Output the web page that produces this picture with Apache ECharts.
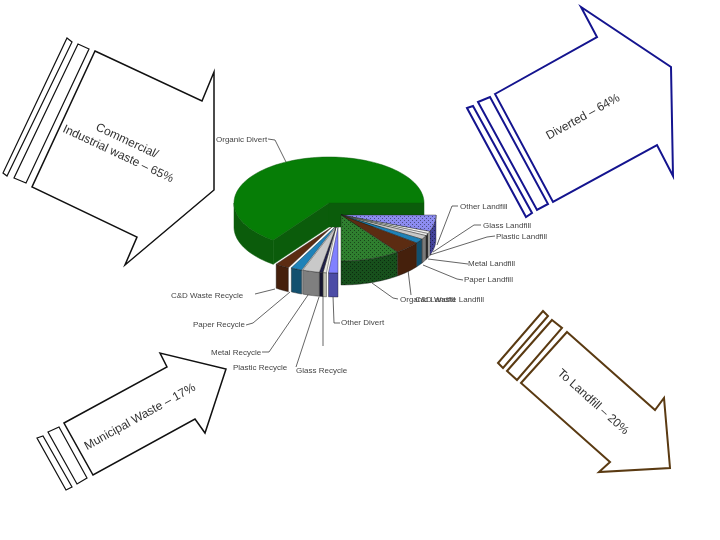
<!DOCTYPE html>
<html>
<head>
<meta charset="utf-8">
<title>Waste streams</title>
<script src="https://cdn.jsdelivr.net/npm/echarts@6/dist/echarts.min.js"></script>
<style>
  html, body { margin: 0; background: #fff; }
  #container { width: 720px; height: 540px; }
</style>
</head>
<body>
<div id="container"></div>
<script>
// slices, clockwise from the cut at the lower left of the big green one
const sliceNames = ['Organic Divert', 'Other Landfill', 'Glass Landfill', 'Plastic Landfill', 'Metal Landfill',
  'Paper Landfill', 'C&D Waste Landfill', 'Organic Landfill', 'Other Divert', 'Glass Recycle', 'Plastic Recycle',
  'Metal Recycle', 'Paper Recycle', 'C&D Waste Recycle'];
const sliceValues = [65.0, 5.8, 0.8, 0.8, 1.4, 1.6, 4.5, 10.1, 1.6, 0.6, 0.6, 2.9, 1.9, 2.4];

const arrowTexts = ['Commercial/', 'Industrial waste – 65%', 'Diverted – 64%', 'Municipal Waste – 17%', 'To Landfill – 20%'];

// styles, same order as sliceNames
const topColors = ['#067d06', '#8c8cf0', '#f4f4f4', '#ececec', '#c8c8c8', '#1f82b8', '#5c2c12', '#2f7f2f',
  '#8080ff', '#e8e8e0', '#20204a', '#c9c9c9', '#1f82b8', '#5c2c12'];
const wallColors = ['#0b5c0b', '#43439a', '#cfcfcf', '#303030', '#7a7a7a', '#12506f', '#45200c', '#17501c',
  '#4c4ca6', '#bdbdb0', '#14142e', '#7f7f7f', '#12506f', '#45200c'];
const dotted = [0, 1, 0, 0, 0, 0, 0, 1, 0, 0, 0, 0, 0, 0];
// how far each slice is pulled out of the pie, px
const pullX = [0, 12, 12, 12, 12, 12, 12, 12, 9, 7, 7, 7, 6, 3];
const pullY = [0, 12, 12, 12, 12, 12, 12, 12, 24, 24, 24, 24, 24, 24];

const pieX = 329, pieY = 203, radiusX = 95, radiusY = 46, depth = 24, firstAngle = 126;

function dotFill(color) {
  const c = document.createElement('canvas');
  c.width = 4; c.height = 4;
  const g = c.getContext('2d');
  g.fillStyle = color;
  g.fillRect(0, 0, 4, 4);
  g.fillStyle = 'rgba(0,0,0,0.45)';
  g.fillRect(0, 0, 1, 1);
  g.fillRect(2, 2, 1, 1);
  return { image: c, repeat: 'repeat' };
}

const total = sliceValues.reduce(function (a, b) { return a + b; }, 0);

function rimPoint(cx, cy, deg, drop) {
  const r = deg * Math.PI / 180;
  return [cx + radiusX * Math.cos(r), cy + radiusY * Math.sin(r) + (drop || 0)];
}

function renderSlice(params, api) {
  const i = params.dataIndex;
  let start = firstAngle;
  for (let k = 0; k < i; k++) start += sliceValues[k] / total * 360;
  if (start >= 359.99) start -= 360;
  const end = start + api.value(0) / total * 360;
  const cx = pieX + pullX[i], cy = pieY + pullY[i];
  const big = i === 0;
  const topFill = dotted[i] ? dotFill(topColors[i]) : topColors[i];
  const wallFill = dotted[i] ? dotFill(wallColors[i]) : wallColors[i];
  const edge = big ? { stroke: wallColors[i], lineWidth: 0.5 } : { stroke: '#1a1a1a', lineWidth: 0.4 };
  const kids = [];

  function wall(points) {
    kids.push({ type: 'polygon', shape: { points: points }, style: Object.assign({ fill: wallFill }, edge) });
  }
  function cutWall(deg) {
    const p = rimPoint(cx, cy, deg);
    wall([[cx, cy], p, [p[0], p[1] + depth], [cx, cy + depth]]);
  }

  // the narrow slices hide each other's cut faces
  if (big) {
    cutWall(start);
    cutWall(end);
  }

  // outer rim, front half only
  const rimEnd = Math.min(end, 180);
  if (rimEnd > start) {
    const upper = [], lower = [];
    for (let a = start; a < rimEnd; a += 2) {
      upper.push(rimPoint(cx, cy, a));
      lower.unshift(rimPoint(cx, cy, a, depth));
    }
    upper.push(rimPoint(cx, cy, rimEnd));
    lower.unshift(rimPoint(cx, cy, rimEnd, depth));
    wall(upper.concat(lower));
  }

  const top = [[cx, cy]];
  for (let a = start; a < end; a += 2) top.push(rimPoint(cx, cy, a));
  top.push(rimPoint(cx, cy, end));
  kids.push({ type: 'polygon', shape: { points: top }, style: Object.assign({ fill: topFill }, edge) });

  return { type: 'group', children: kids };
}

// annotation layout, hand placed
const labelSpots = [
  [216, 140, [[268, 139], [275, 140], [286, 162]]],
  [460, 207, [[458, 206], [452, 206], [437, 245]]],
  [483, 226, [[481, 225], [474, 225], [433, 252]]],
  [496, 237, [[495, 236], [487, 237], [430, 255]]],
  [468, 264, [[468, 264], [452, 262], [428, 259]]],
  [464, 280, [[463, 280], [457, 279], [423, 265]]],
  [415, 300, [[411, 295], [408, 270]]],
  [400, 300, [[398, 299], [393, 298], [372, 283]]],
  [341, 323, [[340, 323], [334, 323], [333, 296]]],
  [296, 371, [[323, 346], [323, 296]]],
  [233, 368, [[296, 367], [319, 297]]],
  [211, 353, [[262, 352], [269, 352], [308, 295]]],
  [193, 325, [[246, 325], [253, 323], [290, 292]]],
  [171, 296, [[255, 294], [275, 289]]]
];

const black = '#111', blue = '#14148f', brown = '#5a3a12';
const arrowShapes = [
  [black, 1.5, [[95, 51], [202, 101], [214, 72], [214, 190], [125, 265], [137, 237], [32, 187]]],
  [black, 1.2, [[78, 44], [89, 49], [26, 183], [14, 178]]],
  [black, 1.2, [[67, 38], [72, 42], [7, 176], [3, 173]]],
  [blue, 2, [[495, 94], [597, 37], [581, 7], [671, 67], [673, 176], [657, 145], [553, 202]]],
  [blue, 2, [[478, 102], [490, 97], [548, 204], [537, 210]]],
  [blue, 2, [[467, 108], [473, 106], [532, 213], [526, 217]]],
  [black, 1.5, [[64, 423], [167, 367], [160, 353], [226, 369], [205, 433], [195, 419], [93, 475]]],
  [black, 1.2, [[48, 432], [59, 427], [87, 478], [77, 484]]],
  [black, 1.2, [[37, 438], [43, 436], [72, 487], [66, 490]]],
  [brown, 2, [[567, 332], [655, 410], [664, 398], [670, 468], [599, 472], [610, 462], [521, 383]]],
  [brown, 2, [[552, 320], [562, 328], [517, 380], [507, 371]]],
  [brown, 2, [[543, 311], [548, 316], [503, 368], [498, 363]]]
];
const arrowTextSpots = [
  [127, 141, 25, 12],
  [118, 154, 25, 12],
  [583, 117, -29, 12],
  [140, 417, -29, 12],
  [593, 402, 42, 12]
];

const graphics = [];
arrowShapes.forEach(function (a) {
  graphics.push({ type: 'polygon', shape: { points: a[2] }, style: { fill: 'none', stroke: a[0], lineWidth: a[1] } });
});
arrowTexts.forEach(function (t, i) {
  const s = arrowTextSpots[i];
  graphics.push({
    type: 'text', x: s[0], y: s[1], rotation: -s[2] * Math.PI / 180,
    style: { text: t, font: s[3] + 'px "Liberation Sans"', fill: '#333', align: 'center', verticalAlign: 'middle' }
  });
});
sliceNames.forEach(function (name, i) {
  const s = labelSpots[i];
  graphics.push({ type: 'polyline', shape: { points: s[2] }, style: { fill: 'none', stroke: '#222', lineWidth: 0.7 } });
  graphics.push({
    type: 'text', x: s[0], y: s[1],
    style: { text: name, font: '8px "Liberation Sans"', fill: '#444', align: 'left', verticalAlign: 'middle' }
  });
});

const chart = echarts.init(document.getElementById('container'), null, { renderer: 'canvas' });
chart.setOption({
  backgroundColor: '#fff',
  animation: false,
  graphic: graphics,
  series: [{
    type: 'custom',
    coordinateSystem: 'none',
    renderItem: renderSlice,
    data: sliceValues.map(function (v, i) { return { name: sliceNames[i], value: [v] }; }),
    silent: true
  }]
});
</script>
</body>
</html>
